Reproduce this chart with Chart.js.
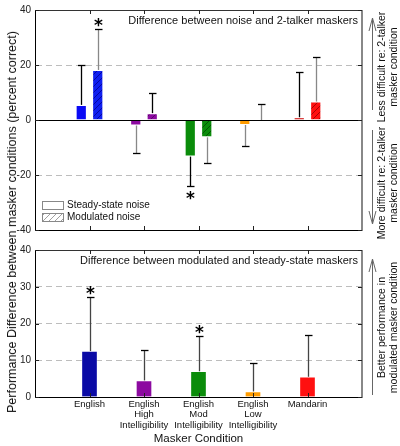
<!DOCTYPE html>
<html>
<head>
<meta charset="utf-8">
<script src="https://cdn.jsdelivr.net/npm/chart.js@4.4.0/dist/chart.umd.min.js"></script>
<style>
  body { margin: 0; background: #fff; }
  #wrap { position: relative; width: 400px; height: 446px; font-family: "Liberation Sans", Arial, sans-serif; }
  #topChart { position: absolute; left: 0; top: 0; }
  #bottomChart { position: absolute; left: 0; top: 240px; }
  #ytitle {
    position: absolute; left: 12px; top: 222px;
    transform: translate(-50%, -50%) rotate(-90deg);
    white-space: nowrap; font-size: 12.5px; color: #111;
  }
</style>
</head>
<body>
<div id="wrap">
  <canvas id="topChart" width="400" height="240"></canvas>
  <canvas id="bottomChart" width="400" height="206"></canvas>
  <div id="ytitle">Performance Difference between masker conditions (percent correct)</div>
</div>
<script>
const maskers = ['English', ['English', 'High', 'Intelligibility'], ['English', 'Mod', 'Intelligibility'], ['English', 'Low', 'Intelligibility'], 'Mandarin'];

// top panel: noise masker minus 2-talker masker
const steadyVsTalker = [5.5, -2, -13.3, -1.8, 1];
const steadyVsTalkerTip = [20, -12, -24, -9.3, 17.5];
const modVsTalker = [18.2, 2.5, -6.3, 0, 6.7];
const modVsTalkerTip = [33, 9.8, -15.8, 6, 22.8];
const sigSteadyVsTalker = [false, false, true, false, false];
const sigModVsTalker = [true, false, false, false, false];

// bottom panel: modulated minus steady-state
const modVsSteady = [12.5, 4.5, 7, 1.5, 5.5];
const modVsSteadyTip = [27.2, 12.8, 16.5, 9.3, 17];
const sigModVsSteady = [true, false, true, false, false];

const FONT = '"Liberation Sans", Arial, sans-serif';
const pad = arr => [null, ...arr, null];
const labels = ['', ...maskers, ''];

function hatch(bg, line) {
    const c = document.createElement('canvas');
    c.width = c.height = 6;
    const g = c.getContext('2d');
    g.fillStyle = bg;
    g.fillRect(0, 0, 6, 6);
    g.strokeStyle = line;
    g.lineWidth = 0.8;
    g.beginPath();
    g.moveTo(0, 6); g.lineTo(6, 0);
    g.moveTo(-1, 1); g.lineTo(1, -1);
    g.moveTo(5, 7); g.lineTo(7, 5);
    g.stroke();
    return g.createPattern(c, 'repeat');
}

function seg(ctx, x1, y1, x2, y2) {
    ctx.beginPath();
    ctx.moveTo(x1, y1);
    ctx.lineTo(x2, y2);
    ctx.stroke();
}

function star(ctx, x, yc) {
    ctx.fillStyle = '#000';
    ctx.font = 'bold 17px "DejaVu Sans"';
    ctx.textAlign = 'center';
    ctx.textBaseline = 'alphabetic';
    ctx.fillText('*', x, yc + 9.5);
}

function arrow(ctx, x, yFrom, yTo) {
    const dir = yTo < yFrom ? 1 : -1;
    ctx.strokeStyle = '#666';
    ctx.lineWidth = 1;
    seg(ctx, x, yFrom, x, yTo);
    seg(ctx, x, yTo, x - 3.5, yTo + dir * 13);
    seg(ctx, x, yTo, x + 3.5, yTo + dir * 13);
}

function sideText(ctx, lines, x, yc) {
    ctx.save();
    ctx.translate(x, yc);
    ctx.rotate(-Math.PI / 2);
    ctx.fillStyle = '#111';
    ctx.font = '10.5px ' + FONT;
    ctx.textAlign = 'center';
    ctx.textBaseline = 'middle';
    lines.forEach((t, i) => ctx.fillText(t, 0, i * 11.5));
    ctx.restore();
}

const decor = {
    id: 'decor',
    afterDatasetsDraw(chart, args, o) {
        const {ctx, chartArea: a, scales: {x, y}} = chart;
        ctx.save();

        // zero line
        if (o.zeroLine) {
            const y0 = Math.round(y.getPixelForValue(0)) + 0.5;
            ctx.strokeStyle = '#000';
            ctx.lineWidth = 1;
            seg(ctx, a.left, y0, a.right, y0);
        }

        // error bars and significance stars
        chart.data.datasets.forEach((ds, di) => {
            const meta = chart.getDatasetMeta(di);
            meta.data.forEach((bar, i) => {
                const v = ds.data[i];
                const tip = ds.tips[i];
                if (v == null || tip == null) return;
                const bx = Math.round(bar.x) + 0.5;
                const y0 = y.getPixelForValue(v);
                const y1 = Math.round(y.getPixelForValue(tip)) + 0.5;
                ctx.lineWidth = 1.3;
                ctx.strokeStyle = ds.errColors[i];
                seg(ctx, bx, y0, bx, y1);
                ctx.strokeStyle = '#000';
                seg(ctx, bx - 3.5, y1, bx + 4, y1);
                if (ds.stars[i]) {
                    const dir = tip >= v ? -1 : 1;
                    star(ctx, bx, y1 + dir * 8);
                }
            });
        });

        // frame: top and right borders
        ctx.lineWidth = 1;
        ctx.strokeStyle = '#333';
        seg(ctx, a.left, a.top + 0.5, a.right, a.top + 0.5);
        ctx.strokeStyle = '#888';
        ctx.lineWidth = 2;
        seg(ctx, a.right, a.top, a.right, a.bottom + 1);

        // inward tick marks
        ctx.lineWidth = 1;
        ctx.strokeStyle = '#222';
        for (let i = 1; i < labels.length - 1; i++) {
            const tx = Math.round(x.getPixelForValue(i)) + 0.5;
            seg(ctx, tx, a.top, tx, a.top + 4);
            seg(ctx, tx, a.bottom, tx, a.bottom - 4);
        }
        y.ticks.forEach(t => {
            const ty = Math.round(y.getPixelForValue(t.value)) + 0.5;
            seg(ctx, a.right - 4, ty, a.right, ty);
            seg(ctx, a.left, ty, a.left + 4, ty);
        });

        // panel caption
        ctx.fillStyle = '#111';
        ctx.font = '11px ' + FONT;
        ctx.textAlign = 'right';
        ctx.textBaseline = 'middle';
        ctx.fillText(o.caption, a.right - 4, a.top + 11);

        // legend
        if (o.legend) {
            const lx = a.left + 7;
            const ly = a.bottom - 29;
            chart.data.datasets.forEach((ds, di) => {
                const by = ly + di * 12;
                ctx.fillStyle = di === 0 ? '#fff' : hatch('#fff', '#888');
                ctx.fillRect(lx, by, 21, 8);
                ctx.strokeStyle = '#888';
                ctx.lineWidth = 1;
                ctx.strokeRect(lx + 0.5, by + 0.5, 21, 8);
                ctx.fillStyle = '#111';
                ctx.font = '10px ' + FONT;
                ctx.textAlign = 'left';
                ctx.fillText(ds.label, lx + 25, by + 4.5);
            });
        }

        // right-hand annotations
        const ax = a.right + 10.5;
        if (o.zeroLine) {
            const yz = y.getPixelForValue(0);
            arrow(ctx, ax, yz - 10, a.top + 8);
            arrow(ctx, ax, yz + 10, a.bottom - 6);
            sideText(ctx, ['Less difficult re: 2-talker', 'masker condition'], a.right + 20.5, 67);
            sideText(ctx, ['More difficult re: 2-talker', 'masker condition'], a.right + 20.5, 183);
        } else {
            arrow(ctx, ax, a.bottom - 2, a.top + 9);
            sideText(ctx, ['Better performance in', 'modulated masker condition'], a.right + 20.5, (a.top + a.bottom) / 2 + 4);
        }
        ctx.restore();
    }
};

function yAxis(min, max, step, zeroLine) {
    return {
        min: min, max: max,
        ticks: { stepSize: step, padding: 4, color: '#222', font: { family: FONT, size: 10 } },
        grid: {
            drawTicks: false,
            color: c => {
                const v = c.tick && c.tick.value;
                if (v === min || v === max || (zeroLine && v === 0)) return 'rgba(0,0,0,0)';
                return '#bdbdbd';
            }
        },
        border: { color: '#000', dash: [6, 4] },
        afterFit: s => { s.width = 35; }
    };
}

const topColors = ['#0a0af5', '#8c0aa0', '#0a8c0a', '#ff9c00', '#cc0000'];
const topModColors = ['#1020f0', '#8c0aa0', '#0a8c0a', '#ff9c00', '#ff1010'];
const hatchLines = ['#000090', '#500060', '#004a00', '#a06000', '#900000'];

new Chart(document.getElementById('topChart'), {
    type: 'bar',
    data: {
        labels: labels,
        datasets: [{
            label: 'Steady-state noise',
            data: pad(steadyVsTalker),
            tips: pad(steadyVsTalkerTip),
            stars: pad(sigSteadyVsTalker),
            errColors: pad(['#000', '#888', '#000', '#888', '#000']),
            backgroundColor: pad(topColors),
            borderColor: 'rgba(255,255,255,0.35)',
            borderWidth: 1,
            categoryPercentage: 0.605,
            barPercentage: 0.68
        }, {
            label: 'Modulated noise',
            data: pad(modVsTalker),
            tips: pad(modVsTalkerTip),
            stars: pad(sigModVsTalker),
            errColors: pad(['#888', '#000', '#888', '#888', '#888']),
            backgroundColor: pad(topModColors.map((c, i) => hatch(c, hatchLines[i]))),
            borderColor: 'rgba(255,255,255,0.35)',
            borderWidth: 1,
            categoryPercentage: 0.605,
            barPercentage: 0.68
        }]
    },
    options: {
        responsive: false,
        animation: false,
        layout: { padding: { left: 0, right: 38, top: 5, bottom: 6 } },
        plugins: {
            legend: { display: false },
            tooltip: { enabled: false },
            decor: { caption: 'Difference between noise and 2-talker maskers', zeroLine: true, legend: true }
        },
        scales: {
            x: {
                offset: false,
                ticks: { display: false },
                grid: { drawOnChartArea: false, drawTicks: false },
                border: { color: '#000' },
                afterFit: s => { s.height = 0; }
            },
            y: yAxis(-40, 40, 20, true)
        }
    },
    plugins: [decor]
});

new Chart(document.getElementById('bottomChart'), {
    type: 'bar',
    data: {
        labels: labels,
        datasets: [{
            label: 'Modulated minus steady-state',
            data: pad(modVsSteady),
            tips: pad(modVsSteadyTip),
            stars: pad(sigModVsSteady),
            errColors: pad(['#444', '#444', '#444', '#444', '#444']),
            backgroundColor: pad(['#0a0aa5', '#8c0aa0', '#0a8c0a', '#ff9c00', '#ff1010']),
            borderColor: 'rgba(255,255,255,0.35)',
            borderWidth: 1,
            barThickness: 16
        }]
    },
    options: {
        responsive: false,
        animation: false,
        layout: { padding: { left: 0, right: 38, top: 6, bottom: 0 } },
        plugins: {
            legend: { display: false },
            tooltip: { enabled: false },
            decor: { caption: 'Difference between modulated and steady-state maskers', zeroLine: false, legend: false }
        },
        scales: {
            x: {
                offset: false,
                ticks: {
                    autoSkip: false, maxRotation: 0, padding: 2, color: '#111',
                    font: { family: FONT, size: 9.5, lineHeight: 1.1 }
                },
                grid: { drawOnChartArea: false, drawTicks: false },
                border: { color: '#000' },
                title: { display: true, text: 'Masker Condition', color: '#111', padding: 0, font: { family: FONT, size: 11.5 } },
                afterFit: s => { s.height = 49; }
            },
            y: yAxis(0, 40, 10, false)
        }
    },
    plugins: [decor]
});
</script>
</body>
</html>
